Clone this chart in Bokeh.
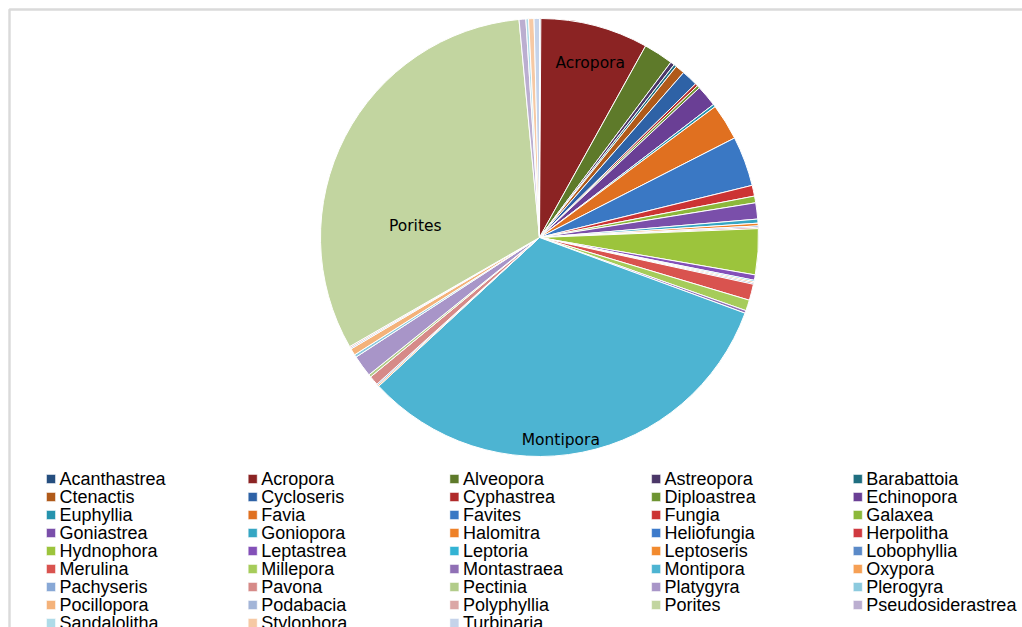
import math
from bokeh.plotting import figure
from bokeh.models import Range1d, BoxAnnotation, ColumnDataSource
from bokeh.core.properties import value
from bokeh.embed import file_html
from bokeh.resources import INLINE

# ---- data (share of colonies, %) ----
genera = ["Acanthastrea", "Acropora", "Alveopora", "Astreopora", "Barabattoia",
          "Ctenactis", "Cycloseris", "Cyphastrea", "Diploastrea", "Echinopora",
          "Euphyllia", "Favia", "Favites", "Fungia", "Galaxea",
          "Goniastrea", "Goniopora", "Halomitra", "Heliofungia", "Herpolitha",
          "Hydnophora", "Leptastrea", "Leptoria", "Leptoseris", "Lobophyllia",
          "Merulina", "Millepora", "Montastraea", "Montipora", "Oxypora",
          "Pachyseris", "Pavona", "Pectinia", "Platygyra", "Plerogyra",
          "Pocillopora", "Podabacia", "Polyphyllia", "Porites", "Pseudosiderastrea",
          "Sandalolitha", "Stylophora", "Turbinaria"]
share = [0.1, 8.0, 2.2, 0.3, 0.2,
         0.7, 1.2, 0.2, 0.2, 1.6,
         0.2, 2.7, 3.7, 0.8, 0.5,
         1.2, 0.3, 0.2, 0.1, 0.1,
         3.4, 0.4, 0.1, 0.1, 0.1,
         1.2, 0.8, 0.2, 32.7, 0.1,
         0.1, 0.7, 0.2, 1.6, 0.2,
         0.5, 0.1, 0.1, 32.0, 0.5,
         0.2, 0.4, 0.4]
labelled = ["Acropora", "Porites", "Montipora"]

# ---- styles ----
palette = ["#254E7F", "#8B2323", "#5E7A2A", "#4B3768", "#1F6E80", "#B05A1A",
           "#2E62A6", "#B02A2A", "#6E9432", "#6A3F95", "#2593AD", "#E07020",
           "#3A78C4", "#CC3333", "#8CB83A", "#7A4FAA", "#35A6C3", "#EE8128",
           "#3C7ACB", "#D03A40", "#9CC43C", "#8350B8", "#33B3D4", "#F28A2E",
           "#5B8AC8", "#D9534F", "#A6CC5A", "#9070B5", "#4DB4D2", "#F6A055",
           "#88A8D6", "#D68A88", "#B2CC8A", "#A895C8", "#8CCADE", "#F4B27A",
           "#A3B5D8", "#DBA7A6", "#C2D5A0", "#BBAED0", "#AFDBE8", "#F6C9A4",
           "#C5D3EA"]
# label placement: (angle clockwise from top in degrees, fraction of radius)
label_place = {"Acropora": (16.2, 0.83), "Porites": (275.5, 0.57), "Montipora": (174.0, 0.93)}

W, H = 1022, 627
CX, CY, R = 539, H - 237, 219

p = figure(width=W, height=H, output_backend="svg", toolbar_location=None,
           x_range=Range1d(0, W), y_range=Range1d(0, H),
           min_border=0, min_border_left=0, min_border_right=0,
           min_border_top=0, min_border_bottom=0)
p.axis.visible = False
p.grid.visible = False
p.outline_line_color = None
p.background_fill_color = "white"
p.border_fill_color = "white"

# chart border (top/left edges visible, rest runs off the page)
p.add_layout(BoxAnnotation(left=9, right=W + 200, bottom=-400, top=H - 9,
                           fill_alpha=0, line_color="#868686", line_width=2.5))

# ---- pie ----
total = float(sum(share))
starts, ends = [], []
acc = 0.0
for v in share:
    starts.append(math.pi / 2 - 2 * math.pi * acc / total)
    acc += v
    ends.append(math.pi / 2 - 2 * math.pi * acc / total)

src = ColumnDataSource(dict(genus=genera, share=share, color=palette,
                            start=starts, end=ends))
p.wedge(x=CX, y=CY, radius=R, start_angle="start", end_angle="end",
        direction="clock", fill_color="color", line_color="white",
        line_width=1, source=src)

# ---- data labels ----
lx, ly, lt = [], [], []
for name in labelled:
    a, f = label_place[name]
    lx.append(CX + f * R * math.sin(math.radians(a)))
    ly.append(CY + f * R * math.cos(math.radians(a)))
    lt.append(name)
p.text(x=lx, y=ly, text=lt, text_align="center", text_baseline="middle",
       text_font=value("DejaVu Sans"), text_font_size="15.5px", text_color="black")

# ---- legend (5 columns, row-major) ----
ncols = 5
col_x0, col_step = 46, 201.7
mid0, row_step = H - 478.5, 18
sx, sy, tx, ty = [], [], [], []
for i, name in enumerate(genera):
    r, c = divmod(i, ncols)
    x0 = col_x0 + c * col_step
    ym = mid0 - r * row_step
    sx.append(x0 + 4.5)
    sy.append(ym)
    tx.append(x0 + 13)
    ty.append(ym)
p.rect(x=sx, y=sy, width=9, height=9, fill_color=palette, line_color="white",
       line_width=0.5)
p.text(x=tx, y=ty, text=genera, text_align="left", text_baseline="middle",
       text_font=value("Liberation Sans"), text_font_size="18px", text_color="black")

open("out.html", "w").write(file_html(p, INLINE))
